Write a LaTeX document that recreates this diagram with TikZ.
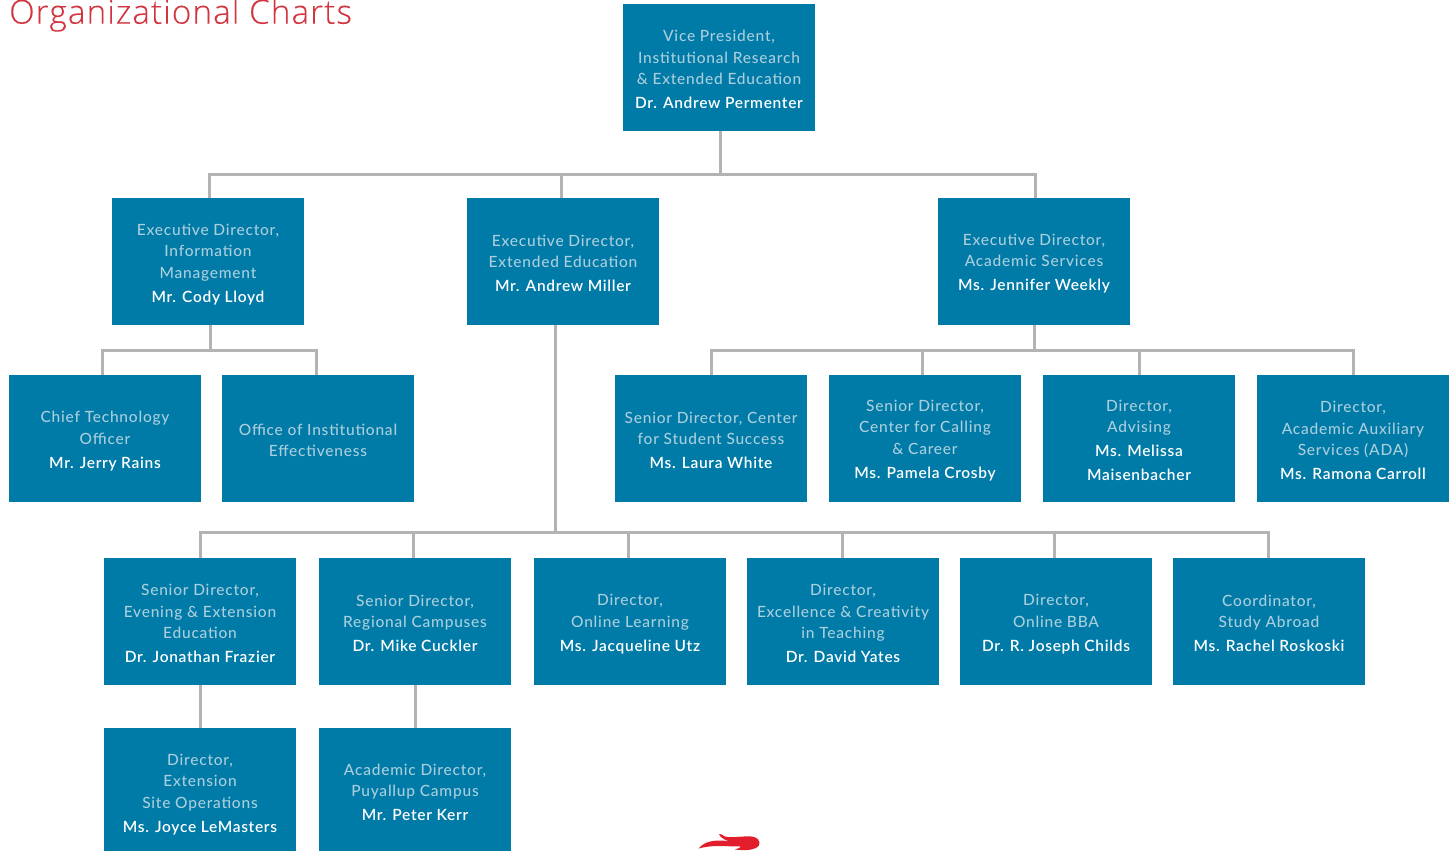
\documentclass[tikz,border=0pt]{standalone}
\usepackage{fontspec}
\setmainfont[LetterSpace=5]{Lato Medium}
\newfontfamily\namefont[LetterSpace=4.5]{Lato Semibold}
\newfontfamily\titlefont[LetterSpace=3.2,FakeBold=0.12]{Open Sans Light}
\definecolor{boxblue}{HTML}{007AA6}
\definecolor{soft}{HTML}{A9CEDD}
\definecolor{linegray}{HTML}{B3B3B3}
\definecolor{titlered}{HTML}{D2353F}
\definecolor{flame}{HTML}{E31E2C}
\newcommand{\nm}[1]{{\namefont\textcolor{white}{#1}}}
\newcommand{\st}{\rule{0pt}{15.5pt}}
\tikzset{
  orgbox/.style={fill=boxblue,text=soft,minimum width=192pt,minimum height=127pt,inner sep=0pt,align=center,
    font=\fontsize{15.5}{21.5}\selectfont},
  conn/.style={draw=linegray,line width=3pt}
}
\begin{document}
\begin{tikzpicture}[x=1pt,y=-1pt]
\useasboundingbox (0,0) rectangle (1452,851);
\node[anchor=base west,text=titlered,inner sep=0pt,font=\titlefont\fontsize{33.3}{33}\selectfont] (title) at (9,23.7) {Organizational Charts};
% boxes
\node[orgbox] (vp) at (719,67.5) {\st Vice President,\\Institutional Research\\\& Extended Education\\[2.5pt]\nm{Dr. Andrew Permenter}};
\node[orgbox] (ed1) at (208,261.5) {\rule{0pt}{17pt}Executive Director,\\Information\\Management\\[2.5pt]\nm{Mr. Cody Lloyd}};
\node[orgbox] (ed2) at (563,261.5) {\st Executive Director,\\Extended Education\\[2.5pt]\nm{Mr. Andrew Miller}};
\node[orgbox] (ed3) at (1034,261.5) {\st Executive Director,\\Academic Services\\[2.5pt]\nm{Ms. Jennifer Weekly}};
\node[orgbox] (cto) at (105,438.5) {\rule{0pt}{17pt}Chief Technology\\Officer\\[2.5pt]\nm{Mr. Jerry Rains}};
\node[orgbox] (oie) at (318,438.5) {\st Office of Institutional\\Effectiveness};
\node[orgbox] (sd1) at (711,438.5) {\st Senior Director, Center\\for Student Success\\[2.5pt]\nm{Ms. Laura White}};
\node[orgbox] (sd2) at (925,438.5) {\st Senior Director,\\Center for Calling\\\& Career\\[2.5pt]\nm{Ms. Pamela Crosby}};
\node[orgbox] (dad) at (1139,438.5) {\st Director,\\Advising\\[2.5pt]\nm{Ms. Melissa}\\[2.5pt]\nm{Maisenbacher}};
\node[orgbox] (daa) at (1353,438.5) {\st Director,\\Academic Auxiliary\\Services (ADA)\\[2.5pt]\nm{Ms. Ramona Carroll}};
\node[orgbox] (sev) at (200,621.5) {\st Senior Director,\\Evening \& Extension\\Education\\[2.5pt]\nm{Dr. Jonathan Frazier}};
\node[orgbox] (srg) at (415,621.5) {\st Senior Director,\\Regional Campuses\\[2.5pt]\nm{Dr. Mike Cuckler}};
\node[orgbox] (dol) at (630,621.5) {\rule{0pt}{17pt}Director,\\Online Learning\\[2.5pt]\nm{Ms. Jacqueline Utz}};
\node[orgbox] (dex) at (843,621.5) {\st Director,\\Excellence \& Creativity\\in Teaching\\[2.5pt]\nm{Dr. David Yates}};
\node[orgbox] (dbb) at (1056,621.5) {\rule{0pt}{17pt}Director,\\Online BBA\\[2.5pt]\nm{Dr. R. Joseph Childs}};
\node[orgbox] (csa) at (1269,621.5) {\st Coordinator,\\Study Abroad\\[2.5pt]\nm{Ms. Rachel Roskoski}};
\node[orgbox,minimum height=123pt] (dso) at (200,789.5) {\rule{0pt}{21pt}Director,\\Extension\\Site Operations\\[2.5pt]\nm{Ms. Joyce LeMasters}};
\node[orgbox,minimum height=123pt] (pac) at (415,789.5) {\rule{0pt}{17.5pt}Academic Director,\\Puyallup Campus\\[2.5pt]\nm{Mr. Peter Kerr}};
% bus junctions
\coordinate (busa) at (720,174);
\coordinate (busb) at (210,350);
\coordinate (busc) at (1034,350);
\coordinate (busd) at (555,532);
% connectors
\draw[conn] ([xshift=1pt]vp.south) -- (busa);
\draw[conn] (busa) -| ([xshift=1.5pt]ed1.north);
\draw[conn] (busa) -| ([xshift=-2pt]ed2.north);
\draw[conn] (busa) -| ([xshift=1pt]ed3.north);
\draw[conn] ([xshift=2pt]ed1.south) -- (busb);
\draw[conn] (busb) -| ([xshift=-2.5pt]cto.north);
\draw[conn] (busb) -| ([xshift=-2pt]oie.north);
\draw[conn] (ed3.south) -- (busc);
\draw[conn] (busc) -| (sd1.north);
\draw[conn] (busc) -| ([xshift=-3pt]sd2.north);
\draw[conn] (busc) -| (dad.north);
\draw[conn] (busc) -| (daa.north);
\draw[conn] ([xshift=-8pt]ed2.south) -- (busd);
\draw[conn] (busd) -| (sev.north);
\draw[conn] (busd) -| ([xshift=-2pt]srg.north);
\draw[conn] (busd) -| ([xshift=-2pt]dol.north);
\draw[conn] (busd) -| ([xshift=-1pt]dex.north);
\draw[conn] (busd) -| ([xshift=-2pt]dbb.north);
\draw[conn] (busd) -| ([xshift=-1pt]csa.north);
\draw[conn] (sev.south) -- (dso.north);
\draw[conn] (srg.south) -- (pac.north);
% flame
\fill[flame] (698.5,848.5) .. controls (703,843) and (710,840.5) .. (720,840.5)
  .. controls (725,840.5) and (729,841.5) .. (732,842.5)
  .. controls (726,840.5) and (720,838) .. (719,834)
  .. controls (721,833.5) and (722,835) .. (725,836.5)
  .. controls (733,838.5) and (747,835) .. (754,837)
  .. controls (761,839) and (761,846) .. (756,848)
  .. controls (751,850.5) and (742,850.5) .. (735,849.5)
  .. controls (738,848.5) and (740,848) .. (741,846.5)
  .. controls (733,846.5) and (725,846) .. (718,846)
  .. controls (711,846) and (704,847) .. (698.5,848.5) -- cycle;
\end{tikzpicture}
\end{document}
